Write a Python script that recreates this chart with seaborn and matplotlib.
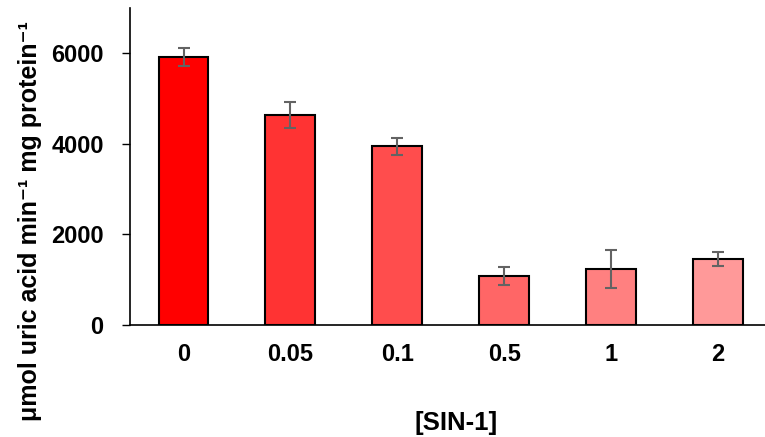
import matplotlib
matplotlib.use("Agg")
import matplotlib.pyplot as plt
import seaborn as sns
import pandas as pd

categories = ["0", "0.05", "0.1", "0.5", "1", "2"]
activity = [5920, 4630, 3950, 1080, 1235, 1455]
errors = [190, 290, 190, 200, 420, 155]
bar_colors = ["#FF0000", "#FF3333", "#FF4D4D", "#FF6666", "#FF8080", "#FF9999"]

sns.set_theme(style="white")
plt.rcParams["font.family"] = ["Liberation Sans", "DejaVu Sans"]
plt.rcParams["font.weight"] = "bold"

df = pd.DataFrame({"sin": categories, "activity": activity})

fig = plt.figure(figsize=(7.65, 4.37), dpi=100)
ax = fig.add_axes([0.170, 0.2563, 0.8385, 0.7254])

sns.barplot(data=df, x="sin", y="activity", hue="sin", palette=bar_colors,
            legend=False, width=0.467, edgecolor="black", linewidth=1.5,
            saturation=1, errorbar=None, ax=ax)
ax.errorbar(range(len(categories)), activity, yerr=errors, fmt="none",
            ecolor="#636363", elinewidth=1.5, capsize=4.3, capthick=1.5)

ax.set_xlim(-0.5, 5.5)
ax.set_ylim(0, 7000)
ax.set_yticks([0, 2000, 4000, 6000])
ax.tick_params(axis="y", direction="out", length=6, width=1, color="black",
               left=True, pad=13, labelsize=17)
ax.tick_params(axis="x", length=0, pad=13, labelsize=17)
for lbl in ax.get_xticklabels() + ax.get_yticklabels():
    lbl.set_fontweight("bold")
    lbl.set_color("black")

ax.set_ylabel("μmol uric acid min⁻¹ mg protein⁻¹",
              fontsize=18, fontweight="bold", color="black")
ax.yaxis.set_label_coords(-0.137, 0.328)
ax.set_xlabel("[SIN-1]", fontsize=18.5, fontweight="bold", color="black")
ax.xaxis.set_label_coords(0.508, -0.27)

for side in ["top", "right"]:
    ax.spines[side].set_visible(False)
for side in ["left", "bottom"]:
    ax.spines[side].set_color("black")
    ax.spines[side].set_linewidth(1.2)

fig.savefig("out.png", dpi=100)
